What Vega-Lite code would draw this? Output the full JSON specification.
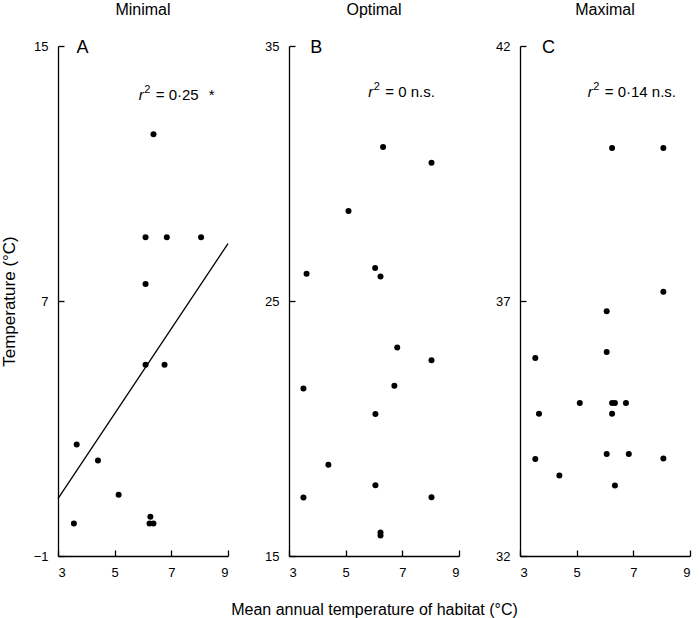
{
  "$schema": "https://vega.github.io/schema/vega-lite/v6.json",
  "background": "white",
  "padding": {"left": 0, "top": 2, "right": 3, "bottom": 3},
  "bounds": "flush",
  "spacing": 61,
  "config": {
    "font": "Liberation Sans",
    "view": {"stroke": null},
    "axis": {
      "grid": false,
      "domainColor": "black",
      "tickColor": "black",
      "labelColor": "black",
      "titleColor": "black",
      "labelFontSize": 13,
      "titleFontWeight": "normal",
      "tickSize": -6,
      "domainWidth": 1.3,
      "tickWidth": 1.3
    },
    "axisY": {"labelPadding": 16, "titlePadding": 15, "titleFontSize": 17},
    "axisX": {"labelPadding": 16, "titlePadding": 22, "titleFontSize": 16},
    "title": {"fontSize": 16, "fontWeight": "normal", "color": "black", "offset": 21},
    "text": {"color": "black", "fontSize": 15}
  },
  "datasets": {
    "minimal": [
      {"habitat": 6.37, "temp": 12.23},
      {"habitat": 6.09, "temp": 9.0},
      {"habitat": 6.84, "temp": 9.0},
      {"habitat": 8.05, "temp": 9.0},
      {"habitat": 6.09, "temp": 7.53},
      {"habitat": 6.09, "temp": 5.0},
      {"habitat": 6.76, "temp": 5.0},
      {"habitat": 3.66, "temp": 2.5},
      {"habitat": 4.41, "temp": 2.0},
      {"habitat": 5.14, "temp": 0.92},
      {"habitat": 3.56, "temp": 0.02},
      {"habitat": 6.26, "temp": 0.23},
      {"habitat": 6.23, "temp": 0.02},
      {"habitat": 6.37, "temp": 0.02}
    ],
    "fitA": [
      {"habitat": 3, "temp": 0.8},
      {"habitat": 9, "temp": 8.8}
    ],
    "labelA": [{"habitat": 3.65, "temp": 15, "label": "A"}],
    "statA": [{"habitat": 5.85, "temp": 13.3, "r": "r", "sup": "2", "rest": "= 0·25", "star": "*"}],
    "optimal": [
      {"habitat": 6.32, "temp": 31.04},
      {"habitat": 8.03, "temp": 30.42},
      {"habitat": 5.1, "temp": 28.53},
      {"habitat": 3.62, "temp": 26.07},
      {"habitat": 6.04, "temp": 26.29},
      {"habitat": 6.23, "temp": 25.96},
      {"habitat": 6.82, "temp": 23.18},
      {"habitat": 8.03, "temp": 22.68},
      {"habitat": 3.51, "temp": 21.57},
      {"habitat": 6.72, "temp": 21.68},
      {"habitat": 6.05, "temp": 20.57},
      {"habitat": 4.39, "temp": 18.58},
      {"habitat": 6.05, "temp": 17.77},
      {"habitat": 3.51, "temp": 17.29},
      {"habitat": 8.03, "temp": 17.3},
      {"habitat": 6.23, "temp": 15.92},
      {"habitat": 6.23, "temp": 15.8}
    ],
    "labelB": [{"habitat": 3.75, "temp": 35, "label": "B"}],
    "statB": [{"habitat": 5.8, "temp": 33.0, "r": "r", "sup": "2", "rest": "= 0 n.s."}],
    "maximal": [
      {"habitat": 6.25, "temp": 40.0},
      {"habitat": 8.06, "temp": 40.0},
      {"habitat": 8.06, "temp": 37.18},
      {"habitat": 6.06, "temp": 36.8},
      {"habitat": 6.06, "temp": 36.0},
      {"habitat": 3.54, "temp": 35.88},
      {"habitat": 5.11, "temp": 35.0},
      {"habitat": 6.25, "temp": 35.0},
      {"habitat": 6.35, "temp": 35.0},
      {"habitat": 6.74, "temp": 35.0},
      {"habitat": 3.67, "temp": 34.79},
      {"habitat": 6.25, "temp": 34.79},
      {"habitat": 3.54, "temp": 33.9},
      {"habitat": 6.06, "temp": 34.0},
      {"habitat": 6.84, "temp": 34.0},
      {"habitat": 8.06, "temp": 33.91},
      {"habitat": 4.39, "temp": 33.58},
      {"habitat": 6.35, "temp": 33.38}
    ],
    "labelC": [{"habitat": 3.78, "temp": 42, "label": "C"}],
    "statC": [{"habitat": 5.39, "temp": 41.0, "r": "r", "sup": "2", "rest": "= 0·14 n.s."}]
  },
  "hconcat": [
    {
      "width": 170,
      "height": 510,
      "title": "Minimal",
      "encoding": {
        "x": {"field": "habitat", "type": "quantitative", "scale": {"domain": [3, 9], "nice": false, "zero": false}, "axis": {"values": [3, 5, 7, 9], "title": null}},
        "y": {"field": "temp", "type": "quantitative", "scale": {"domain": [-1, 15], "nice": false, "zero": false}, "axis": {"values": [-1, 7, 15], "title": "Temperature (°C)"}}
      },
      "layer": [
        {"data": {"name": "minimal"}, "mark": {"type": "point", "filled": true, "color": "black", "opacity": 1, "size": 36}},
        {"data": {"name": "fitA"}, "mark": {"type": "line", "color": "black", "strokeWidth": 1.3}},
        {"data": {"name": "labelA"}, "mark": {"type": "text", "fontSize": 18, "align": "left", "baseline": "middle", "dy": 2}, "encoding": {"text": {"field": "label"}}},
        {"data": {"name": "statA"}, "mark": {"type": "text", "fontStyle": "italic", "align": "left", "baseline": "alphabetic"}, "encoding": {"text": {"field": "r"}}},
        {"data": {"name": "statA"}, "mark": {"type": "text", "fontSize": 11, "align": "left", "baseline": "alphabetic", "dx": 5.5, "dy": -7}, "encoding": {"text": {"field": "sup"}}},
        {"data": {"name": "statA"}, "mark": {"type": "text", "align": "left", "baseline": "alphabetic", "dx": 17}, "encoding": {"text": {"field": "rest"}}},
        {"data": {"name": "statA"}, "mark": {"type": "text", "align": "left", "baseline": "alphabetic", "dx": 70}, "encoding": {"text": {"field": "star"}}}
      ]
    },
    {
      "width": 170,
      "height": 510,
      "title": "Optimal",
      "encoding": {
        "x": {"field": "habitat", "type": "quantitative", "scale": {"domain": [3, 9], "nice": false, "zero": false}, "axis": {"values": [3, 5, 7, 9], "title": "Mean annual temperature of habitat (°C)"}},
        "y": {"field": "temp", "type": "quantitative", "scale": {"domain": [15, 35], "nice": false, "zero": false}, "axis": {"values": [15, 25, 35], "title": null}}
      },
      "layer": [
        {"data": {"name": "optimal"}, "mark": {"type": "point", "filled": true, "color": "black", "opacity": 1, "size": 36}},
        {"data": {"name": "labelB"}, "mark": {"type": "text", "fontSize": 18, "align": "left", "baseline": "middle", "dy": 2}, "encoding": {"text": {"field": "label"}}},
        {"data": {"name": "statB"}, "mark": {"type": "text", "fontStyle": "italic", "align": "left", "baseline": "alphabetic"}, "encoding": {"text": {"field": "r"}}},
        {"data": {"name": "statB"}, "mark": {"type": "text", "fontSize": 11, "align": "left", "baseline": "alphabetic", "dx": 5.5, "dy": -7}, "encoding": {"text": {"field": "sup"}}},
        {"data": {"name": "statB"}, "mark": {"type": "text", "align": "left", "baseline": "alphabetic", "dx": 17}, "encoding": {"text": {"field": "rest"}}}
      ]
    },
    {
      "width": 170,
      "height": 510,
      "title": "Maximal",
      "encoding": {
        "x": {"field": "habitat", "type": "quantitative", "scale": {"domain": [3, 9], "nice": false, "zero": false}, "axis": {"values": [3, 5, 7, 9], "title": null}},
        "y": {"field": "temp", "type": "quantitative", "scale": {"domain": [32, 42], "nice": false, "zero": false}, "axis": {"values": [32, 37, 42], "title": null}}
      },
      "layer": [
        {"data": {"name": "maximal"}, "mark": {"type": "point", "filled": true, "color": "black", "opacity": 1, "size": 36}},
        {"data": {"name": "labelC"}, "mark": {"type": "text", "fontSize": 18, "align": "left", "baseline": "middle", "dy": 2}, "encoding": {"text": {"field": "label"}}},
        {"data": {"name": "statC"}, "mark": {"type": "text", "fontStyle": "italic", "align": "left", "baseline": "alphabetic"}, "encoding": {"text": {"field": "r"}}},
        {"data": {"name": "statC"}, "mark": {"type": "text", "fontSize": 11, "align": "left", "baseline": "alphabetic", "dx": 5.5, "dy": -7}, "encoding": {"text": {"field": "sup"}}},
        {"data": {"name": "statC"}, "mark": {"type": "text", "align": "left", "baseline": "alphabetic", "dx": 17}, "encoding": {"text": {"field": "rest"}}}
      ]
    }
  ]
}
